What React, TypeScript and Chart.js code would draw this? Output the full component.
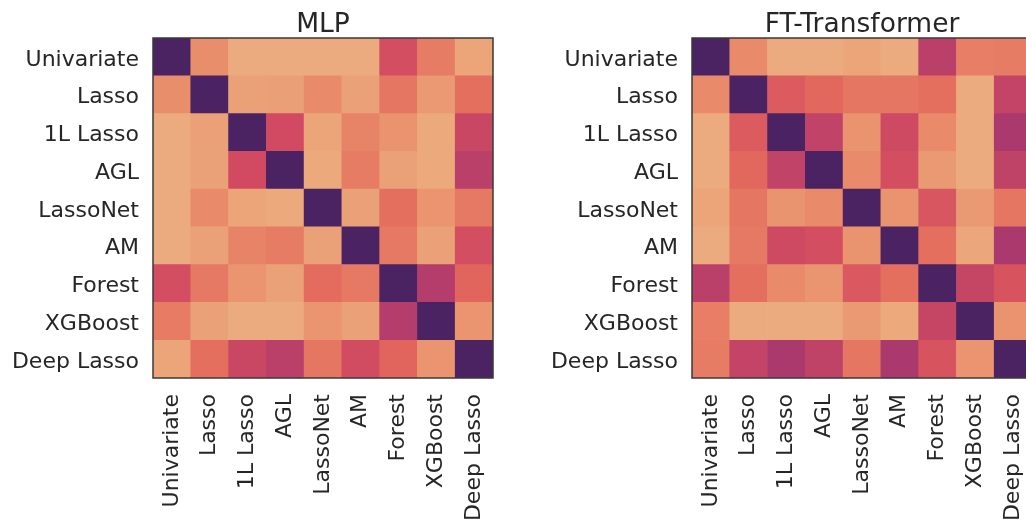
import React, { useEffect, useRef } from "react";
import { Chart, registerables } from "chart.js";

Chart.register(...registerables);

const methods = ["Univariate", "Lasso", "1L Lasso", "AGL", "LassoNet", "AM", "Forest", "XGBoost", "Deep Lasso"];

// rows top->bottom, columns left->right (same order as methods); 1 = diagonal
const mlpValues = [
  [1, 0.14, 0.02, 0.02, 0.02, 0.02, 0.41, 0.21, 0.05],
  [0.14, 1, 0.06, 0.07, 0.15, 0.06, 0.23, 0.09, 0.26],
  [0.02, 0.06, 1, 0.43, 0.05, 0.18, 0.12, 0.03, 0.46],
  [0.02, 0.06, 0.43, 1, 0.03, 0.21, 0.06, 0.03, 0.53],
  [0.02, 0.15, 0.05, 0.03, 1, 0.06, 0.26, 0.11, 0.22],
  [0.02, 0.06, 0.18, 0.21, 0.06, 1, 0.22, 0.06, 0.41],
  [0.41, 0.22, 0.11, 0.06, 0.27, 0.22, 1, 0.56, 0.3],
  [0.21, 0.06, 0.02, 0.02, 0.11, 0.06, 0.56, 1, 0.11],
  [0.05, 0.26, 0.46, 0.53, 0.23, 0.42, 0.3, 0.11, 1],
];

const ftValues = [
  [1, 0.15, 0.02, 0.02, 0.05, 0.02, 0.53, 0.2, 0.21],
  [0.15, 1, 0.35, 0.29, 0.23, 0.23, 0.26, 0.02, 0.49],
  [0.02, 0.35, 1, 0.5, 0.12, 0.44, 0.15, 0.02, 0.6],
  [0.02, 0.29, 0.5, 1, 0.15, 0.41, 0.09, 0.02, 0.51],
  [0.05, 0.23, 0.12, 0.15, 1, 0.12, 0.37, 0.09, 0.23],
  [0.02, 0.22, 0.44, 0.41, 0.12, 1, 0.26, 0.04, 0.6],
  [0.53, 0.26, 0.15, 0.11, 0.36, 0.26, 1, 0.48, 0.38],
  [0.2, 0.02, 0.02, 0.02, 0.09, 0.03, 0.48, 1, 0.12],
  [0.21, 0.49, 0.6, 0.51, 0.23, 0.6, 0.38, 0.11, 1],
];

const flareStops = ["#edb081", "#e98d6b", "#e3685c", "#d14a61", "#b13c6c", "#8f3371", "#6c2b6d", "#4b2362"];

function hexToRgb(h: string) {
  const n = parseInt(h.slice(1), 16);
  return [(n >> 16) & 255, (n >> 8) & 255, n & 255];
}

function flare(t: number) {
  const v = Math.max(0, Math.min(1, t)) * (flareStops.length - 1);
  const i = Math.min(Math.floor(v), flareStops.length - 2);
  const f = v - i;
  const a = hexToRgb(flareStops[i]);
  const b = hexToRgb(flareStops[i + 1]);
  const c = a.map((x, k) => Math.round(x + (b[k] - x) * f));
  return `rgb(${c[0]},${c[1]},${c[2]})`;
}

const TEXT = "#262626";
const FONT = "'DejaVu Sans', sans-serif";

function makeConfig(title: string, values: number[][], yWidth: number, padRight: number): any {
  const n = methods.length;
  const datasets = [];
  for (let k = 0; k < n; k++) {
    const row = n - 1 - k;
    datasets.push({
      label: methods[row],
      data: methods.map(() => 1),
      backgroundColor: values[row].map((v) => flare(v)),
      borderWidth: 0,
      barPercentage: 1,
      categoryPercentage: 1,
      stack: "s",
    });
  }
  const framePlugin = {
    id: "frameTitle",
    afterDraw(chart: any) {
      const { ctx, chartArea } = chart;
      ctx.save();
      ctx.strokeStyle = "#3a3a3a";
      ctx.lineWidth = 1.5;
      ctx.strokeRect(chartArea.left, chartArea.top, chartArea.right - chartArea.left, chartArea.bottom - chartArea.top);
      ctx.fillStyle = TEXT;
      ctx.font = `26.5px ${FONT}`;
      ctx.textAlign = "center";
      ctx.textBaseline = "alphabetic";
      ctx.fillText(title, (chartArea.left + chartArea.right) / 2, chartArea.top - 6);
      ctx.restore();
    },
  };
  return {
    type: "bar",
    data: { labels: methods, datasets },
    options: {
      animation: false,
      responsive: false,
      layout: { padding: { top: 38, right: padRight, bottom: 0, left: 0 } },
      plugins: { legend: { display: false }, tooltip: { enabled: false }, title: { display: false } },
      scales: {
        x: {
          type: "category",
          stacked: true,
          grid: { display: false, drawTicks: false },
          border: { display: false },
          ticks: {
            autoSkip: false,
            minRotation: 90,
            maxRotation: 90,
            padding: 16,
            color: TEXT,
            font: { family: FONT, size: 22 },
          },
          afterFit: (s: any) => {
            s.height = 144;
            s.paddingLeft = 0;
            s.paddingRight = 0;
          },
        },
        y: {
          type: "linear",
          stacked: true,
          min: 0,
          max: n,
          grid: { display: false, drawTicks: false },
          border: { display: false },
          afterBuildTicks: (s: any) => {
            s.ticks = methods.map((_, i) => ({ value: i + 0.5 }));
          },
          ticks: {
            padding: 14,
            labelOffset: 3,
            color: TEXT,
            font: { family: FONT, size: 22 },
            callback: (_v: any, i: number) => methods[n - 1 - i],
          },
          afterFit: (s: any) => {
            s.width = yWidth;
            s.paddingTop = 0;
            s.paddingBottom = 0;
          },
        },
      },
    },
    plugins: [framePlugin],
  };
}

function Heatmap({ title, values, left, width, yWidth, padRight }: any) {
  const ref = useRef<HTMLCanvasElement>(null);
  useEffect(() => {
    if (!ref.current) return;
    const chart = new Chart(ref.current, makeConfig(title, values, yWidth, padRight));
    return () => chart.destroy();
  }, []);
  return (
    <div style={{ position: "absolute", left, top: 0, width, height: 522 }}>
      <canvas ref={ref} width={width} height={522} style={{ display: "block" }} />
    </div>
  );
}

export default function App() {
  return (
    <div style={{ position: "absolute", left: 0, top: 0, width: 1026, height: 522, overflow: "hidden", background: "#ffffff" }}>
      <Heatmap title="MLP" values={mlpValues} left={0} width={500} yWidth={153} padRight={7} />
      <Heatmap title="FT-Transformer" values={ftValues} left={520} width={520} yWidth={172} padRight={8} />
    </div>
  );
}
